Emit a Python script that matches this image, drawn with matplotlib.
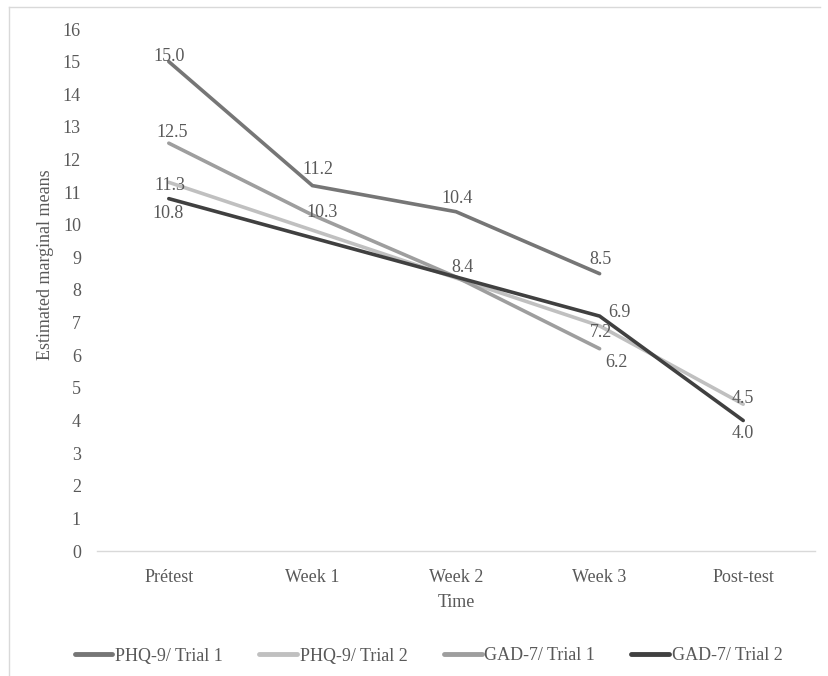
import numpy as np
import matplotlib
matplotlib.use('Agg')
import matplotlib.pyplot as plt
from matplotlib.lines import Line2D

# data
times = ['Prétest', 'Week 1', 'Week 2', 'Week 3', 'Post-test']
series_names = ['PHQ-9/ Trial 1', 'PHQ-9/ Trial 2', 'GAD-7/ Trial 1', 'GAD-7/ Trial 2']
phq9_trial1 = [15.0, 11.2, 10.4, 8.5, np.nan]
phq9_trial2 = [11.3, np.nan, np.nan, 6.9, 4.5]
gad7_trial1 = [12.5, 10.3, 8.4, 6.2, np.nan]
gad7_trial2 = [10.8, np.nan, np.nan, 7.2, 4.0]

colors = ['#767676', '#c0c0c0', '#9e9e9e', '#404040']
# label offsets in pixels (dx, dy) for each point, None = no point
label_offsets = [
    [(0, 5), (6, 16), (1, 13), (1, 14), None],
    [(1, -3), None, None, (20, 13), (0, 6)],
    [(3, 11), (10, 2), (6, 9), (17, -14), None],
    [(-1, -15), None, None, (1, -16), (0, -13)],
]

plt.rcParams['font.family'] = ['Liberation Serif', 'DejaVu Serif']
text_color = '#595959'
fs = 13

fig = plt.figure(figsize=(8.29, 6.76), dpi=100)
ax = fig.add_axes([97 / 829, 1 - 551 / 676, 718 / 829, 522 / 676])

x = np.arange(len(times))
all_series = [phq9_trial1, phq9_trial2, gad7_trial1, gad7_trial2]
for vals, col in zip(all_series, colors):
    v = np.array(vals, dtype=float)
    m = ~np.isnan(v)
    ax.plot(x[m], v[m], color=col, lw=2.6, solid_capstyle='round',
            solid_joinstyle='miter', zorder=2)
for vals, offs in zip(all_series, label_offsets):
    for xi, val, off in zip(x, vals, offs):
        if off is None or np.isnan(val):
            continue
        ax.annotate(f'{val:.1f}', (xi, val), xytext=off, textcoords='offset pixels',
                    ha='center', va='center', fontsize=fs, color=text_color, zorder=3)

ax.set_xlim(-0.5, len(times) - 0.5)
ax.set_ylim(0, 16)
ax.set_yticks(range(0, 17))
ax.set_xticks(x)
ax.set_xticklabels(times)
ax.tick_params(axis='both', length=0, labelsize=fs, labelcolor=text_color)
ax.tick_params(axis='y', pad=11.5)
ax.tick_params(axis='x', pad=13)
for s in ['top', 'right', 'left']:
    ax.spines[s].set_visible(False)
ax.spines['bottom'].set_color('#d9d9d9')
ax.spines['bottom'].set_linewidth(1)

ax.set_ylabel('Estimated marginal means', fontsize=fs, color=text_color)
ax.yaxis.set_label_coords(-0.06, 0.548)
ax.set_xlabel('Time', fontsize=fs, color=text_color)
ax.xaxis.set_label_coords(0.5, -0.083)

handles = [Line2D([], [], color=c, lw=3.5, solid_capstyle='round') for c in colors]
leg = fig.legend(handles, series_names, loc='center', bbox_to_anchor=(0.517, 1 - 656 / 676),
                 ncol=4, frameon=False, fontsize=fs, handlelength=2.1,
                 handletextpad=0.15, columnspacing=2.0)
for t in leg.get_texts():
    t.set_color(text_color)

# outer frame lines (top and left) as in the reference
fig.add_artist(Line2D([9 / 829, 820 / 829], [1 - 7 / 676, 1 - 7 / 676],
                      color='#d9d9d9', lw=1, transform=fig.transFigure))
fig.add_artist(Line2D([9 / 829, 9 / 829], [0, 1 - 7 / 676],
                      color='#d9d9d9', lw=1, transform=fig.transFigure))

fig.savefig('out.png', dpi=100)
